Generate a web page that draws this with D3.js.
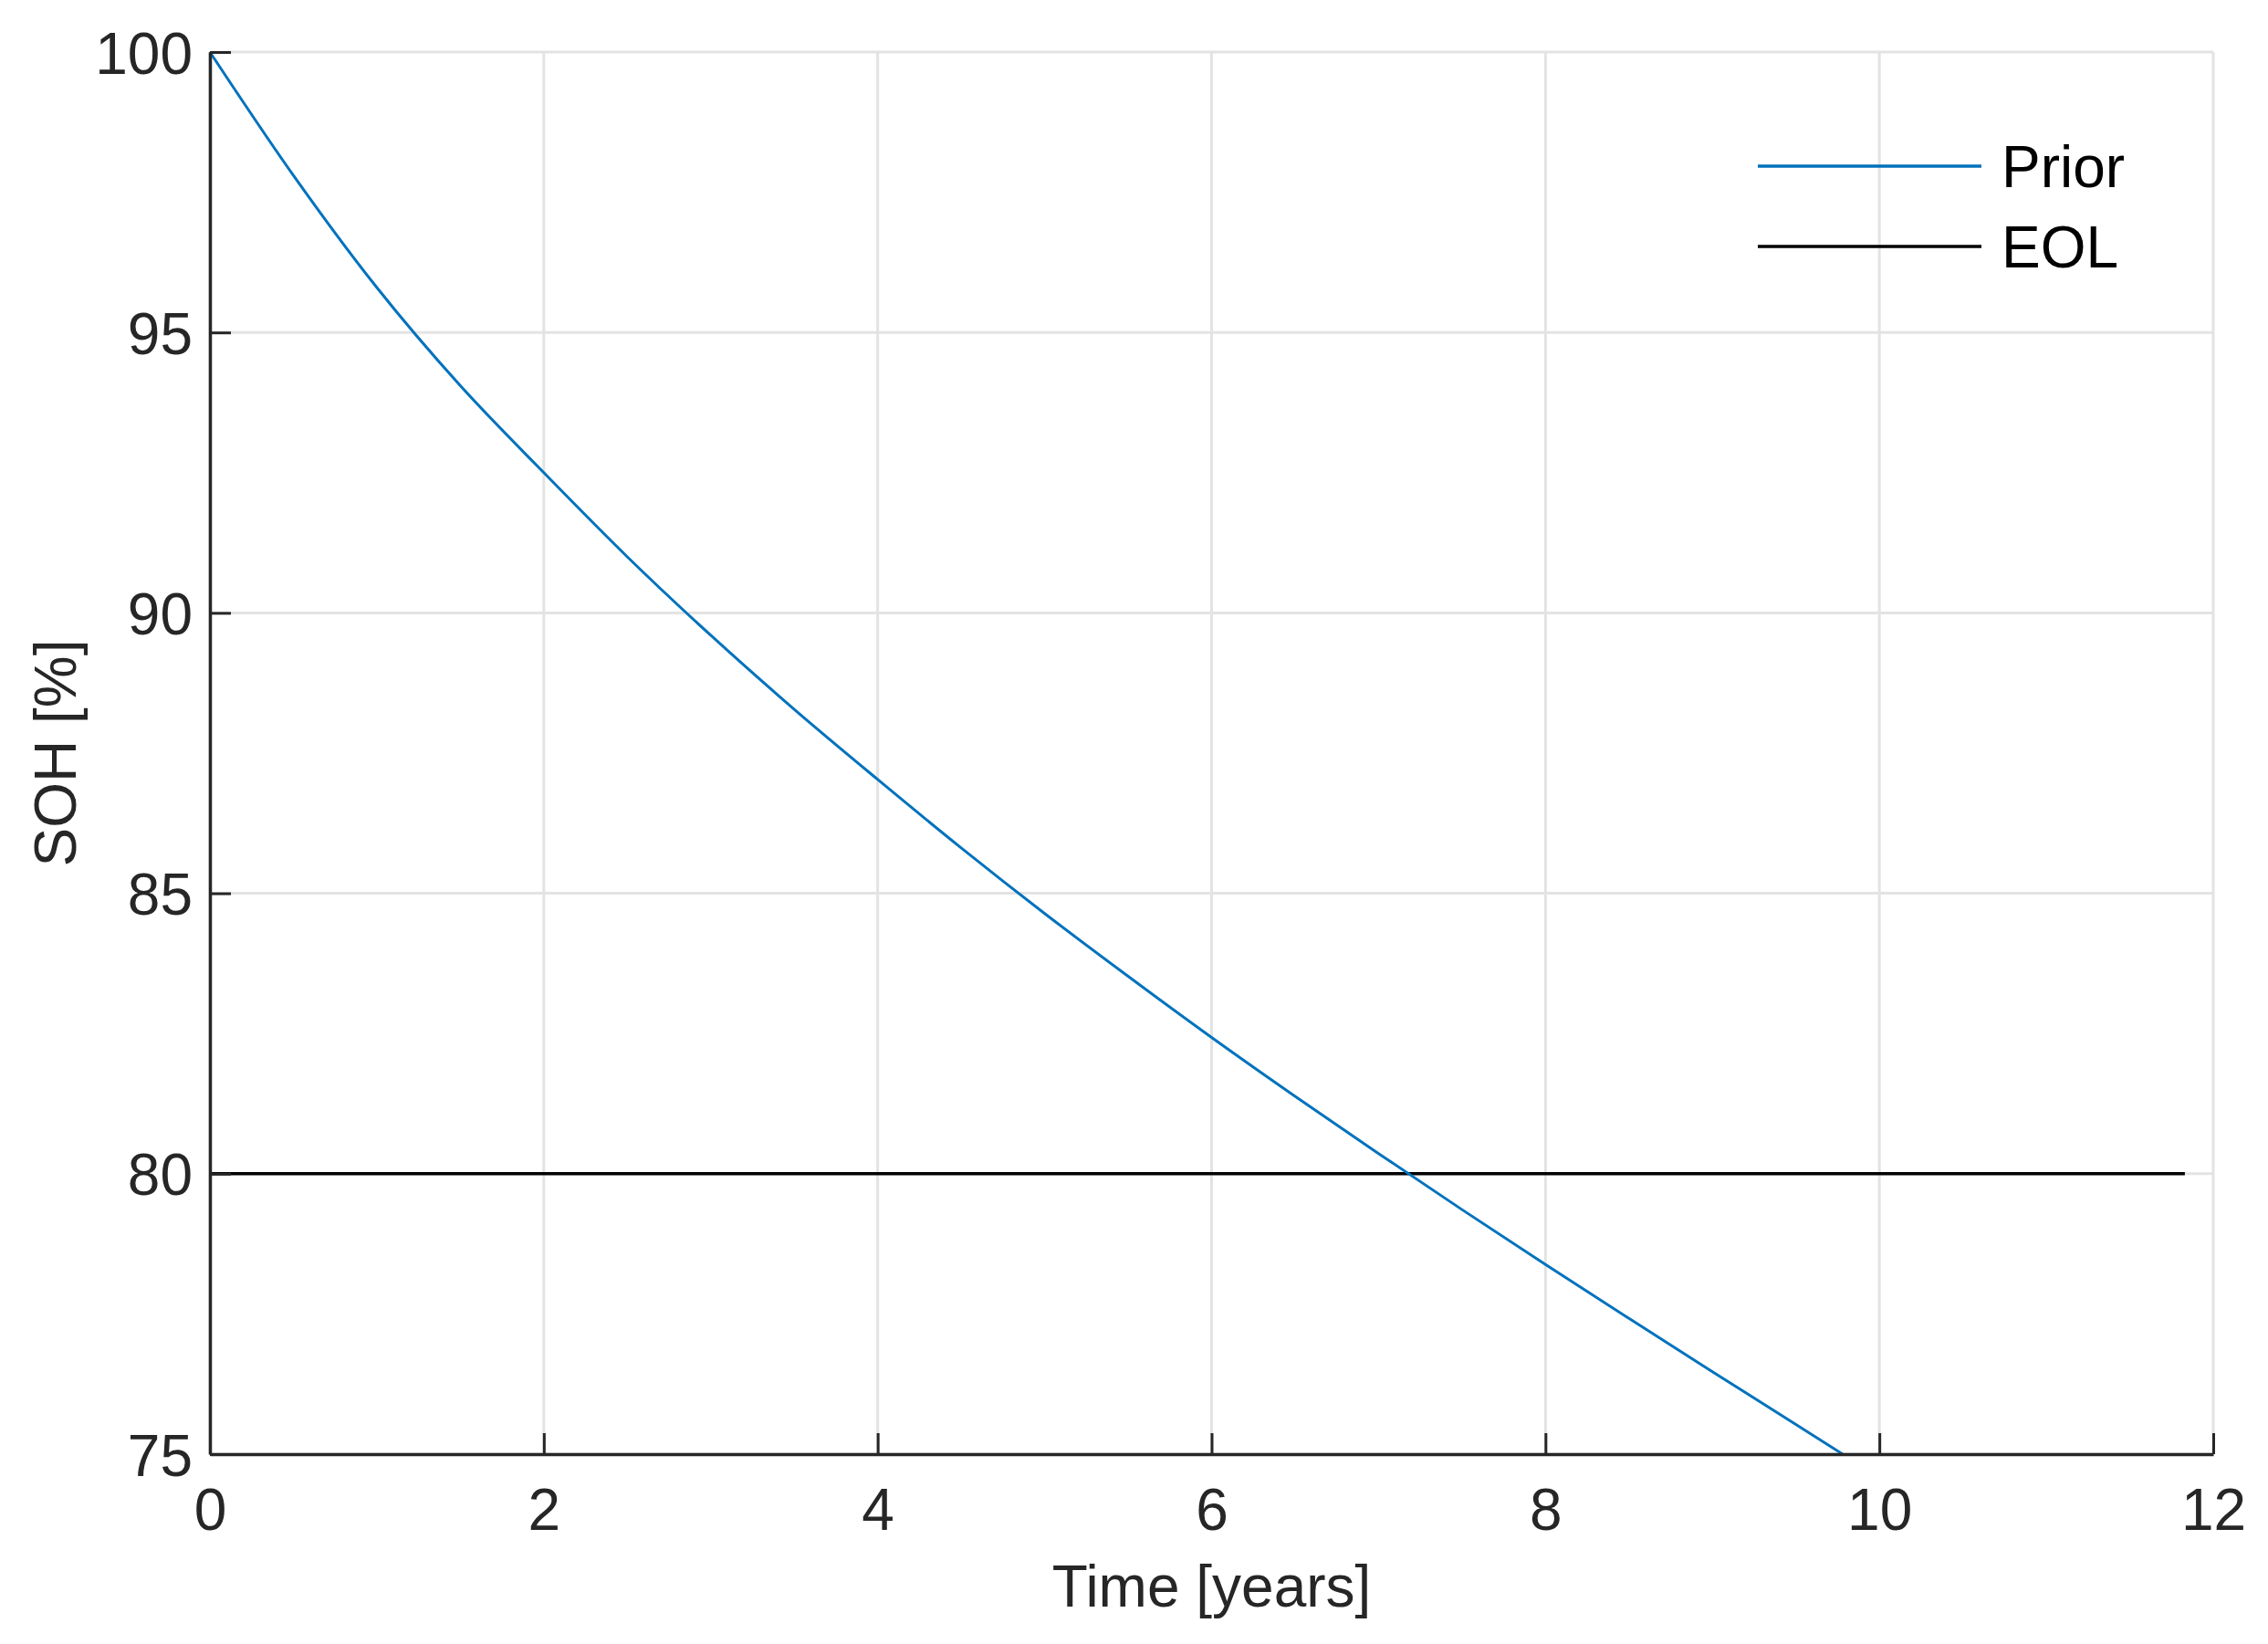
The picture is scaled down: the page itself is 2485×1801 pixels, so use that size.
<!DOCTYPE html>
<html>
<head>
<meta charset="utf-8">
<script src="https://cdn.jsdelivr.net/npm/d3@7"></script>
<style>
  html, body { margin: 0; padding: 0; background: #fff; }
  svg text { font-family: "Liberation Sans", Arial, Helvetica, sans-serif; }
</style>
</head>
<body>
<svg id="chart" width="2485" height="1801"></svg>
<script>
// ── Data ────────────────────────────────────────────────────────
const priorTime = [0, 0.5, 1, 1.5, 2, 2.5, 3, 3.5, 4, 4.5, 5, 5.5, 6, 6.5, 7, 7.5, 8, 8.5, 9, 9.5, 9.78];
const priorSOH  = [100, 97.8, 95.8, 94.05, 92.5, 91.0, 89.6, 88.28, 87.03, 85.81, 84.64, 83.52, 82.43,
                   81.38, 80.36, 79.36, 78.38, 77.42, 76.47, 75.53, 75.0];
const eolTime = [0, 11.83];
const eolSOH  = [80, 80];
const xTicks = [0, 2, 4, 6, 8, 10, 12];
const yTicks = [75, 80, 85, 90, 95, 100];
const legendItems = [
  { label: 'Prior', color: '#0072BD' },
  { label: 'EOL',   color: '#000000' }
];

const M = { left: 230, right: 2425, top: 57, bottom: 1593 };
const axisColor = '#262626';

const svg = d3.select('#chart');

const x = d3.scaleLinear().domain([0, 12]).range([M.left, M.right]);
const y = d3.scaleLinear().domain([75, 100]).range([M.bottom, M.top]);

// ── Grid ───────────────────────────────────────────────────────
const grid = svg.append('g');
grid.selectAll('line.vg').data(xTicks).join('line')
  .attr('x1', d => x(d)).attr('x2', d => x(d))
  .attr('y1', M.top).attr('y2', M.bottom)
  .attr('stroke', '#e3e3e3').attr('stroke-width', 3);
grid.selectAll('line.hg').data(yTicks).join('line')
  .attr('y1', d => y(d)).attr('y2', d => y(d))
  .attr('x1', M.left).attr('x2', M.right)
  .attr('stroke', '#e3e3e3').attr('stroke-width', 3);

// ── Series ─────────────────────────────────────────────────────
const line = d3.line().x(d => x(d[0])).y(d => y(d[1])).curve(d3.curveMonotoneX);

svg.append('path')
  .datum(eolTime.map((t, i) => [t, eolSOH[i]]))
  .attr('d', line)
  .attr('fill', 'none').attr('stroke', legendItems[1].color).attr('stroke-width', 3.5);

svg.append('path')
  .datum(priorTime.map((t, i) => [t, priorSOH[i]]))
  .attr('d', line)
  .attr('fill', 'none').attr('stroke', legendItems[0].color).attr('stroke-width', 3);

// ── Axes ───────────────────────────────────────────────────────
const xAxis = svg.append('g')
  .attr('transform', `translate(0,${M.bottom})`)
  .call(d3.axisBottom(x).tickValues(xTicks).tickSizeInner(-23).tickSizeOuter(0).tickPadding(38));
const yAxis = svg.append('g')
  .attr('transform', `translate(${M.left},0)`)
  .call(d3.axisLeft(y).tickValues(yTicks).tickSizeInner(-23).tickSizeOuter(0).tickPadding(19));

[xAxis, yAxis].forEach(a => {
  a.select('.domain').attr('stroke', axisColor).attr('stroke-width', 3.5);
  a.selectAll('.tick line').attr('stroke', axisColor).attr('stroke-width', 3);
  a.selectAll('.tick text').attr('fill', axisColor).attr('font-size', 64)
    .style('font-family', '"Liberation Sans", Arial, sans-serif');
});
yAxis.selectAll('.tick text').attr('dy', '0.36em');

// ── Axis labels ────────────────────────────────────────────────
svg.append('text')
  .attr('x', (M.left + M.right) / 2).attr('y', 1760)
  .attr('text-anchor', 'middle').attr('font-size', 64).attr('fill', axisColor)
  .text('Time [years]');

svg.append('text')
  .attr('transform', `translate(83,${(M.top + M.bottom) / 2}) rotate(-90)`)
  .attr('text-anchor', 'middle').attr('font-size', 64).attr('fill', axisColor)
  .text('SOH [%]');

// ── Legend ─────────────────────────────────────────────────────
const legend = svg.append('g');
legendItems.forEach((it, i) => {
  const ly = 182 + i * 88;
  legend.append('line')
    .attr('x1', 1926).attr('x2', 2171).attr('y1', ly).attr('y2', ly)
    .attr('stroke', it.color).attr('stroke-width', 3.5);
  legend.append('text')
    .attr('x', 2193).attr('y', ly).attr('dy', '0.36em')
    .attr('font-size', 64).attr('fill', '#000')
    .text(it.label);
});
</script>
</body>
</html>
